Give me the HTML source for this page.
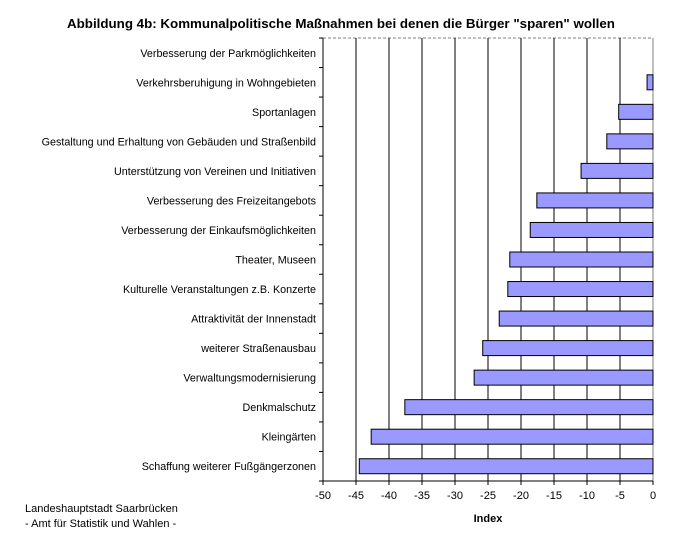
<!DOCTYPE html>
<html><head><meta charset="utf-8"><style>
body{margin:0;background:#fff;width:680px;height:545px;overflow:hidden;font-family:"Liberation Sans",Arial,sans-serif}
</style></head><body>
<svg id="chart" width="680" height="545" font-family="Liberation Sans, Arial, sans-serif">
<text x="341" y="28" text-anchor="middle" font-size="13.35" font-weight="bold">Abbildung 4b: Kommunalpolitische Maßnahmen bei denen die Bürger "sparen" wollen</text>
<text x="488" y="522" text-anchor="middle" font-size="11" font-weight="bold">Index</text>
<text x="25" y="512" font-size="11">Landeshauptstadt Saarbrücken</text>
<text x="25" y="527" font-size="11">- Amt für Statistik und Wahlen -</text>
</svg>
<script>
const categories=["Verbesserung der Parkmöglichkeiten","Verkehrsberuhigung in Wohngebieten","Sportanlagen","Gestaltung und Erhaltung von Gebäuden und Straßenbild","Unterstützung von Vereinen und Initiativen","Verbesserung des Freizeitangebots","Verbesserung der Einkaufsmöglichkeiten","Theater, Museen","Kulturelle Veranstaltungen z.B. Konzerte","Attraktivität der Innenstadt","weiterer Straßenausbau","Verwaltungsmodernisierung","Denkmalschutz","Kleingärten","Schaffung weiterer Fußgängerzonen"];
const values=[0,-0.9,-5.2,-7,-10.9,-17.6,-18.6,-21.7,-22,-23.3,-25.8,-27.1,-37.6,-42.7,-44.5];
const ticks=[-50,-45,-40,-35,-30,-25,-20,-15,-10,-5,0];
const NS="http://www.w3.org/2000/svg";
const svg=document.getElementById("chart");
const L=323,R=653,T=38,B=481,xmin=-50,xmax=0;
const x=v=>L+(v-xmin)/(xmax-xmin)*(R-L);
const band=(B-T)/categories.length;
const y=i=>T+band*i;
function mk(tag,a){const e=document.createElementNS(NS,tag);for(const k in a)e.setAttribute(k,a[k]);svg.appendChild(e);return e;}
let e=mk("line",{x1:L,y1:T,x2:R,y2:T,stroke:"#808080","stroke-dasharray":"3,2"});


e=mk("line",{x1:R,y1:T,x2:R,y2:B,stroke:"#808080"});


ticks.forEach(t=>{
  if(t>xmin&&t<xmax){const g=mk("line",{x1:x(t),y1:T,x2:x(t),y2:B,stroke:"#000"});
  
  }
  const tk=mk("line",{x1:x(t),y1:B,x2:x(t),y2:B+4,stroke:"#000"});
  
  
  const lb=mk("text",{x:x(t),y:B+18,"text-anchor":"middle","font-size":11});
  lb.textContent=t;
  
  
});
categories.forEach((c,i)=>{
  const cy=y(i)+band/2;
  const lb=mk("text",{x:316,y:cy+4,"text-anchor":"end","font-size":10.75});
  lb.textContent=c;
  
  
  const v=values[i];
  if(v!==0){
    const b=mk("rect",{x:x(v),y:cy-7.5,width:x(0)-x(v),height:15,fill:"#9999ff",stroke:"#000","stroke-width":1});
    
    
  }
});
for(let i=0;i<=categories.length;i++){
  const tk=mk("line",{x1:L-4,y1:y(i),x2:L,y2:y(i),stroke:"#000"});
  
  
}
e=mk("line",{x1:L,y1:T,x2:L,y2:B,stroke:"#000"});


e=mk("line",{x1:L,y1:B,x2:R,y2:B,stroke:"#000"});


</script>
</body></html>
